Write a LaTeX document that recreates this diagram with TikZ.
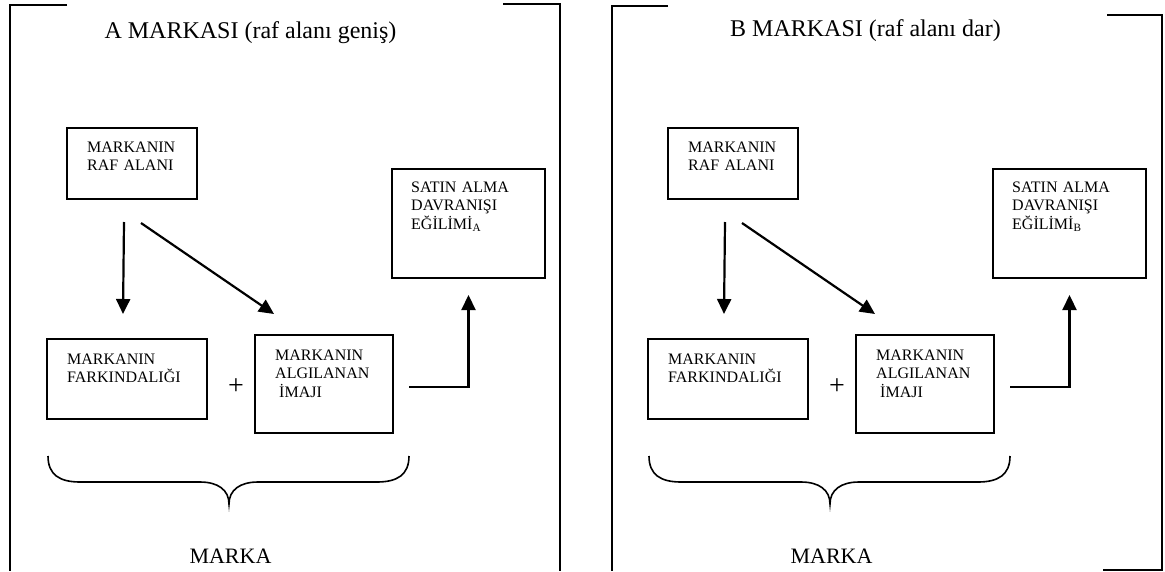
\documentclass[tikz,border=0pt]{standalone}
\usepackage{fontspec}
\setmainfont{Liberation Serif}
\usetikzlibrary{arrows.meta}

\begin{document}
\begin{tikzpicture}[x=1pt,y={(0pt,-1pt)},
  box/.style={draw,line width=2pt,inner sep=0pt},
  lbl/.style={anchor=base west,inner sep=0pt,text width=140pt,align=left,
    font=\fontsize{16}{18.5}\selectfont},
  arr/.style={line width=2.2pt,-{Triangle[length=15pt,width=14pt]}},
  frame/.style={line width=2pt}]

\useasboundingbox (0,0) rectangle (1165,571);

% Titles
\node[anchor=base,font=\fontsize{24}{28}\selectfont] (titleA) at (250.5,38) {A MARKASI (raf alanı geniş)};
\node[anchor=base,font=\fontsize{24}{28}\selectfont] (titleB) at (865.5,36) {B MARKASI (raf alanı dar)};

% Brackets round the panels
\draw[frame] (67,5) -- (10,5) -- (10,571);
\draw[frame] (503,4) -- (560,4) -- (560,571);
\draw[frame] (668,6) -- (612,6) -- (612,571);
\draw[frame] (1107,15) -- (1162,15) -- (1162,570) -- (1103,570);

% The two panels (B is A shifted)
\foreach \p/\dx in {A/0,B/601}{
  % boxes
  \node[box,minimum width=130pt,minimum height=71pt] (raf\p) at (132+\dx,163.5) {};
  \node[box,minimum width=153pt,minimum height=109pt] (satin\p) at (468.5+\dx,223.5) {};
  \node[box,minimum width=160pt,minimum height=80pt] (fark\p) at (127+\dx,379) {};
  \node[box,minimum width=138pt,minimum height=98pt] (algi\p) at (324+\dx,384) {};

  % texts
  \node[lbl] (rafT\p) at ([xshift=21pt,yshift=-25pt]raf\p.north west) {MARKANIN\\RAF ALANI};
  \node[lbl] (satinT\p) at ([xshift=20pt,yshift=-24pt]satin\p.north west)
        {SATIN ALMA\\DAVRANIŞI\\EĞİLİMİ\textsubscript{\p}};
  \node[lbl] (farkT\p) at ([xshift=21pt,yshift=-26pt]fark\p.north west) {MARKANIN\\FARKINDALIĞI};
  \node[lbl] (algiT\p) at ([xshift=21pt,yshift=-26pt]algi\p.north west)
        {MARKANIN\\ALGILANAN\\\hspace*{4pt}İMAJI};

  % plus
  \node[font=\fontsize{28}{32}\selectfont,inner sep=0pt] (plus\p) at (236+\dx,387) {+};

  % arrows
  \draw[arr] ([xshift=58pt,yshift=-22pt]raf\p.south west) -- ([xshift=77pt,yshift=24pt]fark\p.north west);
  \draw[arr] ([xshift=75pt,yshift=-23pt]raf\p.south west) -- ([xshift=20pt,yshift=20pt]algi\p.north west);
  \draw[arr] ([xshift=15pt,yshift=-3pt]algi\p.east) -| ([yshift=-16pt]satin\p.south);

  % brace
  \draw[line width=1.6pt] (48+\dx,456) .. controls (48+\dx,475) and (60+\dx,482) .. (80+\dx,482)
        -- (200+\dx,482) .. controls (218+\dx,482) and (229+\dx,490) .. (229+\dx,504)
        .. controls (229+\dx,490) and (240+\dx,482) .. (258+\dx,482)
        -- (377+\dx,482) .. controls (397+\dx,482) and (409+\dx,475) .. (409+\dx,456);

  % label under the brace
  \node[anchor=base,font=\fontsize{22}{26}\selectfont] (marka\p) at (230.5+\dx,563) {MARKA};
}

\end{tikzpicture}
\end{document}
